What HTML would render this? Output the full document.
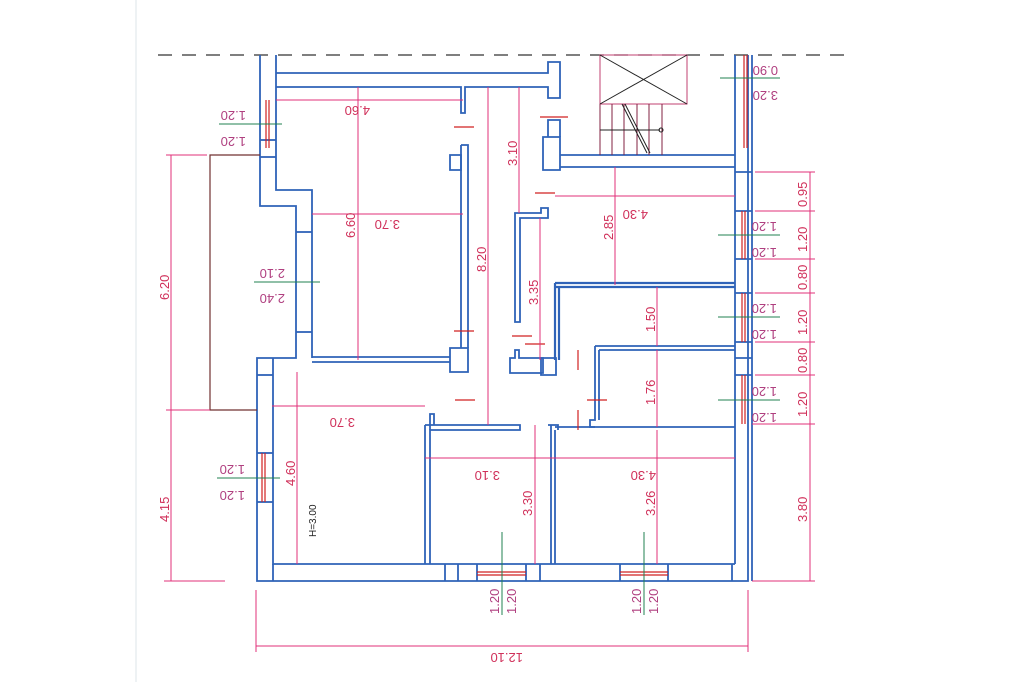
<!DOCTYPE html>
<html><head><meta charset="utf-8"><style>
html,body{margin:0;padding:0;background:#fff;}
svg{display:block}
text{font-family:"Liberation Sans",sans-serif;font-size:13px;fill:#d0305a}
.g{fill:#b04080}
</style></head><body>
<svg width="1024" height="682" viewBox="0 0 1024 682" xmlns="http://www.w3.org/2000/svg">
<line x1="136" y1="0" x2="136" y2="682" stroke="#dde6ea" stroke-width="1"/>
<line x1="158" y1="55" x2="845" y2="55" stroke="#333" stroke-width="1.2" stroke-dasharray="14,10"/>

<g fill="none" stroke="#2f63b8" stroke-width="1.8">
<path d="M260 55 V206 H296 V358 H257 V581 H748 V55"/>
<path d="M276 55 V190 H312 V358"/>
<path d="M735 55 V564"/>
<path d="M273 375 V564 H735"/>
<line x1="260" y1="140" x2="276" y2="140"/><line x1="260" y1="157" x2="276" y2="157"/>
<line x1="296" y1="232" x2="312" y2="232"/><line x1="296" y1="332" x2="312" y2="332"/>
<line x1="257" y1="375" x2="273" y2="375"/><line x1="257" y1="453" x2="273" y2="453"/><line x1="257" y1="502" x2="273" y2="502"/>
<line x1="273" y1="358" x2="273" y2="375"/>
<path d="M276 73 H548 V62 H560 V98 H548 V87 H465 V113 H461 V87 H276"/>
<path d="M560 155 H735 M560 167 H735"/>
<path d="M543 137 H560 V170 H543 Z"/>
<path d="M548 137 V120 H560 V137"/>
<path d="M312 357 H450 M312 362 H450"/>
<path d="M450 348 H468 V372 H450 Z"/>
<path d="M461 145 H468 V348 M461 145 V348"/>
<path d="M450 155 H461 V170 H450 Z"/>
<path d="M515 213 H541 V208 H548 V218 H520 V322 H515 Z"/>
<path d="M510 358 H515 V350 H519 V358 H543 V373 H510 Z"/>
<path d="M541 358 H556 V375 H541 Z"/>
<path d="M555 283 H735 M555 287 H735 M555 283 V360 M559 287 V360" stroke-width="2.2"/>
<path d="M595 346 H735 M599 350 H735 M595 346 V420 H590 V427 H735 M599 350 V420"/>
<path d="M425 425 H520 V430 H430 V564 M425 425 V564"/>
<path d="M430 430 V414 H434 V425"/>
<path d="M551 425 V564 M555 430 V564 M548 425 H558 V430"/>
<path d="M555 427 H595"/>
<line x1="273" y1="564" x2="273" y2="581"/>
<line x1="445" y1="564" x2="445" y2="581"/><line x1="458" y1="564" x2="458" y2="581"/>
<line x1="477" y1="564" x2="477" y2="581"/><line x1="526" y1="564" x2="526" y2="581"/>
<line x1="540" y1="564" x2="540" y2="581"/><line x1="620" y1="564" x2="620" y2="581"/>
<line x1="668" y1="564" x2="668" y2="581"/><line x1="732" y1="564" x2="732" y2="581"/>
<line x1="735" y1="172" x2="752" y2="172"/><line x1="735" y1="211" x2="752" y2="211"/>
<line x1="735" y1="259" x2="752" y2="259"/><line x1="735" y1="293" x2="752" y2="293"/>
<line x1="735" y1="342" x2="752" y2="342"/><line x1="735" y1="358" x2="752" y2="358"/>
<line x1="735" y1="375" x2="752" y2="375"/>
<path d="M752 55 V581" />
</g>

<g stroke="#d02020" stroke-width="1.2">
<line x1="266" y1="100" x2="266" y2="148"/><line x1="269" y1="100" x2="269" y2="148"/>
<line x1="262" y1="453" x2="262" y2="502"/><line x1="265" y1="453" x2="265" y2="502"/>
<line x1="742" y1="211" x2="742" y2="259"/><line x1="745" y1="211" x2="745" y2="259"/>
<line x1="742" y1="293" x2="742" y2="342"/><line x1="745" y1="293" x2="745" y2="342"/>
<line x1="742" y1="375" x2="742" y2="424"/><line x1="745" y1="375" x2="745" y2="424"/>
<line x1="744" y1="55" x2="744" y2="148"/><line x1="747" y1="55" x2="747" y2="148"/>
<line x1="477" y1="572" x2="526" y2="572"/><line x1="477" y1="575" x2="526" y2="575"/>
<line x1="620" y1="572" x2="668" y2="572"/><line x1="620" y1="575" x2="668" y2="575"/>
<line x1="454" y1="127" x2="474" y2="127"/><line x1="454" y1="331" x2="474" y2="331"/>
<line x1="540" y1="117" x2="568" y2="117"/><line x1="535" y1="193" x2="555" y2="193"/>
<line x1="512" y1="336" x2="532" y2="336"/><line x1="455" y1="400" x2="475" y2="400"/>
<line x1="525" y1="344" x2="545" y2="344"/><line x1="578" y1="350" x2="578" y2="370"/>
<line x1="578" y1="410" x2="578" y2="430"/><line x1="587" y1="400" x2="607" y2="400"/>
</g>

<g stroke="#222" stroke-width="1" fill="none">
<rect x="600" y="55" width="87" height="49" stroke="#c04070"/>
<line x1="600" y1="55" x2="687" y2="104"/><line x1="687" y1="55" x2="600" y2="104"/>
<g stroke="#802040"><line x1="600" y1="104" x2="600" y2="155"/><line x1="612" y1="104" x2="612" y2="155"/><line x1="624" y1="104" x2="624" y2="155"/><line x1="637" y1="104" x2="637" y2="155"/><line x1="649" y1="104" x2="649" y2="155"/><line x1="662" y1="104" x2="662" y2="155"/></g>
<line x1="622" y1="104" x2="647" y2="153"/><line x1="625" y1="104" x2="650" y2="153"/>
<line x1="600" y1="130" x2="660" y2="130"/><circle cx="661" cy="130" r="2"/>
</g>

<path d="M260 155 H210 V410 H257" fill="none" stroke="#703030" stroke-width="1.2"/>

<g stroke="#e0307a" stroke-width="1" fill="none">
<line x1="171" y1="155" x2="171" y2="581"/><line x1="166" y1="155" x2="207" y2="155"/><line x1="166" y1="410" x2="210" y2="410"/><line x1="164" y1="581" x2="225" y2="581"/>
<line x1="276" y1="100" x2="463" y2="100"/>
<line x1="358" y1="87" x2="358" y2="360"/>
<line x1="312" y1="214" x2="463" y2="214"/>
<line x1="488" y1="87" x2="488" y2="425"/>
<line x1="519" y1="87" x2="519" y2="213"/>
<line x1="540" y1="218" x2="540" y2="360"/>
<line x1="555" y1="196" x2="735" y2="196"/>
<line x1="615" y1="167" x2="615" y2="285"/>
<line x1="657" y1="287" x2="657" y2="346"/>
<line x1="657" y1="350" x2="657" y2="427"/>
<line x1="657" y1="430" x2="657" y2="564"/>
<line x1="272" y1="406" x2="425" y2="406"/>
<line x1="297" y1="372" x2="297" y2="564"/>
<line x1="425" y1="458" x2="555" y2="458"/>
<line x1="555" y1="458" x2="735" y2="458"/>
<line x1="535" y1="425" x2="535" y2="564"/>
<line x1="810" y1="172" x2="810" y2="581"/>
<line x1="755" y1="172" x2="815" y2="172"/><line x1="755" y1="211" x2="815" y2="211"/><line x1="755" y1="259" x2="815" y2="259"/><line x1="755" y1="293" x2="815" y2="293"/><line x1="755" y1="342" x2="815" y2="342"/><line x1="755" y1="375" x2="815" y2="375"/><line x1="752" y1="424" x2="815" y2="424"/><line x1="752" y1="581" x2="815" y2="581"/>
<line x1="256" y1="646" x2="748" y2="646"/><line x1="256" y1="590" x2="256" y2="652"/><line x1="748" y1="590" x2="748" y2="652"/>
</g>

<g stroke="#208050" stroke-width="1">
<line x1="219" y1="124" x2="282" y2="124"/>
<line x1="254" y1="282" x2="320" y2="282"/>
<line x1="217" y1="478" x2="280" y2="478"/>
<line x1="720" y1="78" x2="780" y2="78"/>
<line x1="718" y1="235" x2="780" y2="235"/>
<line x1="718" y1="317" x2="780" y2="317"/>
<line x1="718" y1="400" x2="780" y2="400"/>
<line x1="502" y1="532" x2="502" y2="615"/>
<line x1="644" y1="532" x2="644" y2="615"/>
</g>

<g>
<text transform="translate(370,106) rotate(180)" >4.60</text>
<text transform="translate(400,220) rotate(180)">3.70</text>
<text transform="translate(355,238) rotate(-90)">6.60</text>
<text transform="translate(486,272) rotate(-90)">8.20</text>
<text transform="translate(517,166) rotate(-90)">3.10</text>
<text transform="translate(538,305) rotate(-90)">3.35</text>
<text transform="translate(648,210) rotate(180)">4.30</text>
<text transform="translate(613,240) rotate(-90)">2.85</text>
<text transform="translate(655,332) rotate(-90)">1.50</text>
<text transform="translate(655,405) rotate(-90)">1.76</text>
<text transform="translate(355,418) rotate(180)">3.70</text>
<text transform="translate(295,486) rotate(-90)">4.60</text>
<text transform="translate(500,471) rotate(180)">3.10</text>
<text transform="translate(532,516) rotate(-90)">3.30</text>
<text transform="translate(656,471) rotate(180)">4.30</text>
<text transform="translate(655,516) rotate(-90)">3.26</text>
<text transform="translate(169,300) rotate(-90)">6.20</text>
<text transform="translate(169,522) rotate(-90)">4.15</text>
<text transform="translate(807,207) rotate(-90)">0.95</text>
<text transform="translate(807,252) rotate(-90)">1.20</text>
<text transform="translate(807,290) rotate(-90)">0.80</text>
<text transform="translate(807,335) rotate(-90)">1.20</text>
<text transform="translate(807,373) rotate(-90)">0.80</text>
<text transform="translate(807,417) rotate(-90)">1.20</text>
<text transform="translate(807,522) rotate(-90)">3.80</text>
<text transform="translate(523,653) rotate(180)">12.10</text>
<text class="g" transform="translate(246,111) rotate(180)">1.20</text>
<text class="g" transform="translate(246,137) rotate(180)">1.20</text>
<text class="g" transform="translate(285,269) rotate(180)">2.10</text>
<text class="g" transform="translate(285,294) rotate(180)">2.40</text>
<text class="g" transform="translate(245,465) rotate(180)">1.20</text>
<text class="g" transform="translate(245,491) rotate(180)">1.20</text>
<text class="g" transform="translate(778,66) rotate(180)">0.90</text>
<text class="g" transform="translate(778,91) rotate(180)">3.20</text>
<text class="g" transform="translate(777,222) rotate(180)">1.20</text>
<text class="g" transform="translate(777,248) rotate(180)">1.20</text>
<text class="g" transform="translate(777,304) rotate(180)">1.20</text>
<text class="g" transform="translate(777,330) rotate(180)">1.20</text>
<text class="g" transform="translate(777,387) rotate(180)">1.20</text>
<text class="g" transform="translate(777,413) rotate(180)">1.20</text>
<text class="g" transform="translate(499,614) rotate(-90)">1.20</text>
<text class="g" transform="translate(516,614) rotate(-90)">1.20</text>
<text class="g" transform="translate(641,614) rotate(-90)">1.20</text>
<text class="g" transform="translate(658,614) rotate(-90)">1.20</text>
<text transform="translate(316,537) rotate(-90)" style="font-size:10px;fill:#222">H=3.00</text>
</g>
</svg>
</body></html>
